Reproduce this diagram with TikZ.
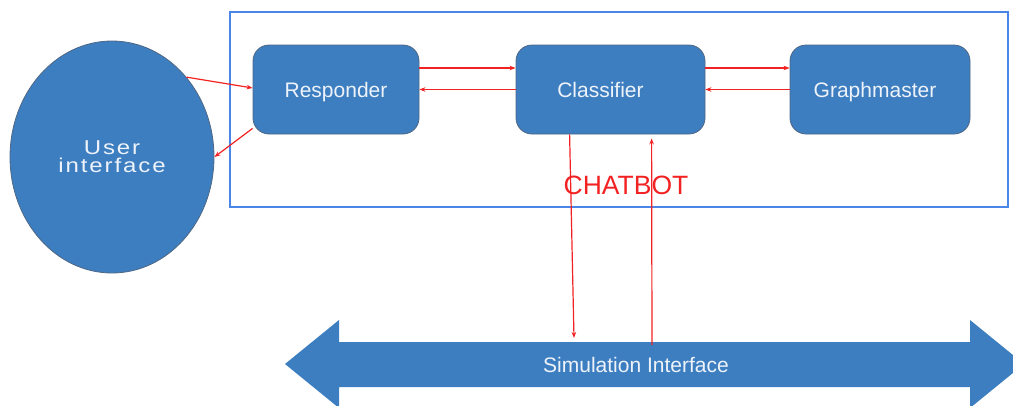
\documentclass[tikz,border=0pt]{standalone}
\usepackage{fontspec}
\setmainfont{Liberation Sans}
\usetikzlibrary{arrows.meta,shapes.geometric}
\definecolor{boxblue}{HTML}{3D7EC1}
\definecolor{frameblue}{HTML}{4A86E8}
\definecolor{edgegray}{HTML}{4E6784}
\definecolor{lighttext}{HTML}{EEF3FA}
\definecolor{linkred}{HTML}{F22222}
\begin{document}
\begin{tikzpicture}[x=1pt,y=-1pt,
  box/.style={draw=edgegray, line width=0.8pt, fill=boxblue, rounded corners=16pt,
    text=lighttext, font=\fontsize{21}{24}\selectfont, inner sep=0pt,
    text height=15pt, text depth=0pt},
  link/.style={draw=linkred, line width=1.2pt, -{Stealth[length=6pt,width=4.5pt]}}]
\useasboundingbox (0,0) rectangle (1013,405);
% chatbot frame
\node[draw=frameblue, line width=2.6pt, minimum width=778pt, minimum height=195pt, inner sep=0pt] (chat) at (619,109.5) {};
\node[text=linkred, font=\fontsize{26.5}{30}\selectfont] (lbl) at (626,185) {CHATBOT};
% user interface
\node[ellipse, draw=edgegray, line width=0.8pt, fill=boxblue, minimum width=204pt, minimum height=232pt,
  inner sep=0pt, align=center, text=lighttext, font=\fontsize{20}{18}\selectfont\addfontfeatures{LetterSpace=8}] (ui) at (112,157)
  {\scalebox{1.2}[1]{User}\\\scalebox{1.2}[1]{interface}};
% boxes
\node[box, minimum width=166pt, minimum height=89pt] (resp) at (336,89.5) {Responder};
\node[box, minimum width=189pt, minimum height=89pt] (cls) at (610.5,89.5) {Classifier\hspace*{20pt}};
\node[box, minimum width=180pt, minimum height=89pt] (gm) at (880,89.5) {Graphmaster\hspace*{10pt}};
% simulation interface double arrow
\fill[boxblue] (285,364) -- (339,320) -- (339,342) -- (970,342) -- (970,320) -- (1024,364)
  -- (970,408) -- (970,387) -- (339,387) -- (339,408) -- cycle;
\node[text=lighttext, font=\fontsize{21}{24}\selectfont] (sim) at (636,365) {Simulation Interface};
\coordinate (simdown) at (574,338);
\coordinate (simup) at (652,345);
% connectors
\draw[link] (ui.47) -- ([yshift=1.5pt]resp.west);
\draw[link] ([yshift=6pt]resp.south west) -- (ui.0);
\draw[link] ([yshift=21.5pt]resp.east) -- ([yshift=21.5pt]cls.west);
\draw[link] (cls.west) -- (resp.east);
\draw[link] ([yshift=21.5pt]cls.east) -- ([yshift=21.5pt]gm.west);
\draw[link] (gm.west) -- (cls.east);
\draw[link] ([xshift=54pt]cls.south west) -- (simdown);
\draw[link] (simup) -- ([xshift=136pt,yshift=-4pt]cls.south west);
\end{tikzpicture}
\end{document}
